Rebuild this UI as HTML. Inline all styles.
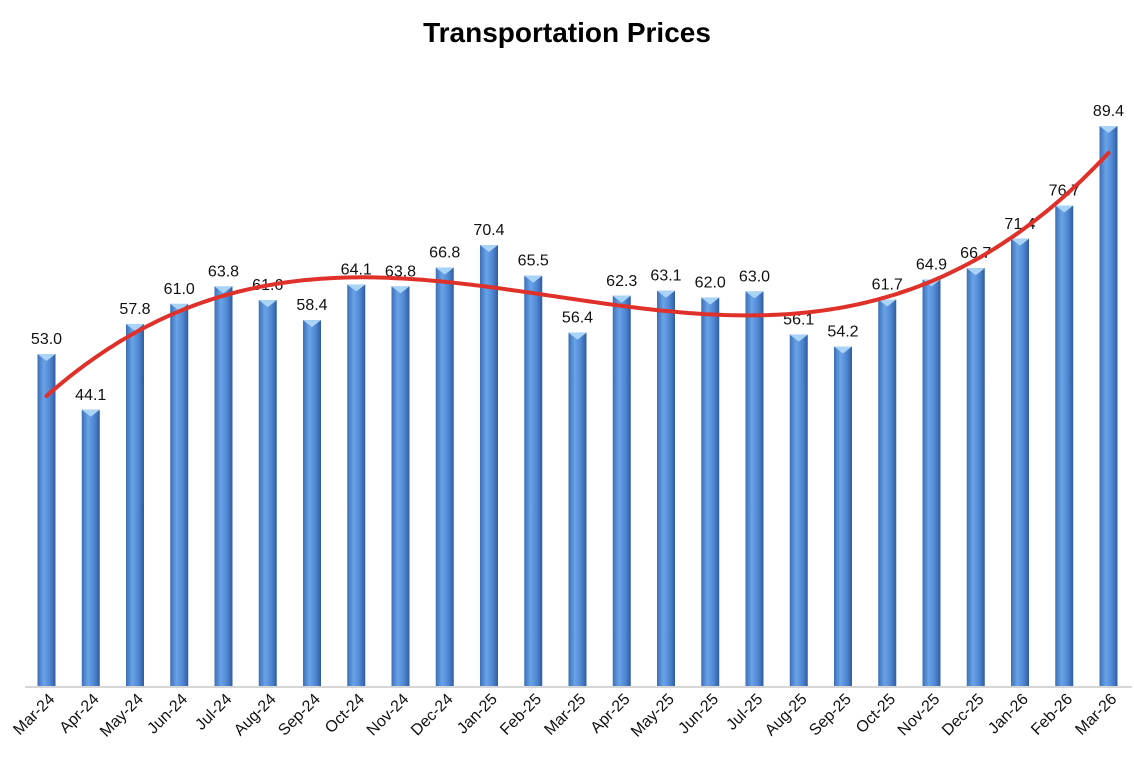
<!DOCTYPE html>
<html><head><meta charset="utf-8"><style>
body{margin:0;background:#fff;}
svg{display:block;}
</style></head><body>
<svg id="c" width="1134" height="774" xmlns="http://www.w3.org/2000/svg" font-family="Liberation Sans, sans-serif">
<defs>
<linearGradient id="g" x1="0" x2="1" y1="0" y2="0">
<stop offset="0" stop-color="#3a6fb8"/><stop offset="0.35" stop-color="#6aa3e8"/><stop offset="0.7" stop-color="#4f86d2"/><stop offset="1" stop-color="#2f5d9e"/>
</linearGradient>
</defs>
<text x="567" y="42" text-anchor="middle" font-size="28" font-weight="bold" fill="#000">Transportation Prices</text>
<line x1="25" y1="687" x2="1132" y2="687" stroke="#c8c8c8" stroke-width="1.5"/>
<g id="bars"></g>
</svg>
<script>
var v=[53.0,44.1,57.8,61.0,63.8,61.6,58.4,64.1,63.8,66.8,70.4,65.5,56.4,62.3,63.1,62.0,63.0,56.1,54.2,61.7,64.9,66.7,71.4,76.7,89.4];
var m=["Mar-24","Apr-24","May-24","Jun-24","Jul-24","Aug-24","Sep-24","Oct-24","Nov-24","Dec-24","Jan-25","Feb-25","Mar-25","Apr-25","May-25","Jun-25","Jul-25","Aug-25","Sep-25","Oct-25","Nov-25","Dec-25","Jan-26","Feb-26","Mar-26"];
var B=686,S=6.264,x0=46.5,dx=44.25,s="";
var g=document.getElementById("bars");
for(var i=0;i<v.length;i++){
 var cx=x0+i*dx,t=B-v[i]*S;
 s+='<rect x="'+(cx-9)+'" y="'+t+'" width="18" height="'+(B-t)+'" fill="url(#g)"/>';
 s+='<polygon points="'+(cx-9)+','+t+' '+(cx+9)+','+t+' '+cx+','+(t+7)+'" fill="#a9d3f7"/>';
 s+='<text x="'+cx+'" y="'+(t-10)+'" text-anchor="middle" font-size="16" fill="#111">'+v[i].toFixed(1)+'</text>';
 s+='<text transform="translate('+(cx+9)+',700) rotate(-45)" text-anchor="end" font-size="16" fill="#111">'+m[i]+'</text>';
}
var n=v.length,A=[],bb=[];
for(var r=0;r<4;r++){A.push([0,0,0,0]);bb.push(0);}
for(i=0;i<n;i++){var x=(i+1)/n;for(r=0;r<4;r++){bb[r]+=v[i]*Math.pow(x,r);for(var c=0;c<4;c++)A[r][c]+=Math.pow(x,r+c);}}
for(r=0;r<4;r++){for(var k=r+1;k<4;k++){var f=A[k][r]/A[r][r];for(c=0;c<4;c++)A[k][c]-=f*A[r][c];bb[k]-=f*bb[r];}}
var co=[0,0,0,0];for(r=3;r>=0;r--){var sm=bb[r];for(c=r+1;c<4;c++)sm-=A[r][c]*co[c];co[r]=sm/A[r][r];}
var p="";for(var q=0;q<=240;q++){var ii=q/10,x=(ii+1)/n,y=co[0]+co[1]*x+co[2]*x*x+co[3]*x*x*x;p+=(q?"L":"M")+(x0+ii*dx).toFixed(1)+","+(B-y*S).toFixed(1);}
s+='<path d="'+p+'" fill="none" stroke="#e0302a" stroke-width="4" stroke-linecap="round"/>';
g.innerHTML=s;
</script>
</body></html>
